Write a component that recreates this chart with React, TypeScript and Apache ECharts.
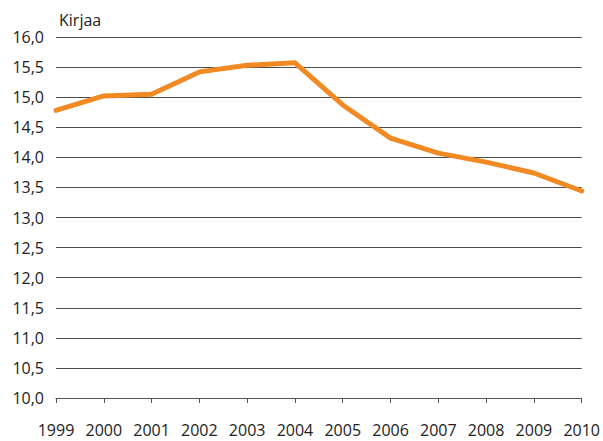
import React, { useEffect, useRef } from "react";
import * as echarts from "echarts";

const years = ["1999", "2000", "2001", "2002", "2003", "2004", "2005", "2006", "2007", "2008", "2009", "2010"];
const books = [14.78, 15.02, 15.05, 15.42, 15.53, 15.57, 14.87, 14.32, 14.07, 13.92, 13.74, 13.44];
const unitLabel = "Kirjaa";

export default function App() {
  const ref = useRef<HTMLDivElement>(null);
  useEffect(() => {
    const chart = echarts.init(ref.current!, null, { renderer: "svg" });
    const font = "'Open Sans', sans-serif";
    chart.setOption({
      animation: false,
      backgroundColor: "#ffffff",
      grid: { left: 56, right: 17, top: 37, bottom: 43, containLabel: false },
      graphic: [
        {
          type: "text",
          left: 59,
          top: 12,
          style: { text: unitLabel, font: `16px ${font}`, fill: "#222" },
        },
      ],
      xAxis: {
        type: "category",
        data: years,
        boundaryGap: false,
        axisLine: { show: true, lineStyle: { color: "#555", width: 1 } },
        axisTick: { show: true, length: 5, lineStyle: { color: "#555" }, alignWithLabel: true },
        axisLabel: { color: "#222", fontFamily: font, fontSize: 16, margin: 24, interval: 0 },
        splitLine: { show: false },
      },
      yAxis: {
        type: "value",
        min: 10,
        max: 16,
        interval: 0.5,
        axisLine: { show: false },
        axisTick: { show: false },
        axisLabel: {
          color: "#222",
          fontFamily: font,
          fontSize: 16,
          margin: 12,
          formatter: (v: number) => v.toFixed(1).replace(".", ","),
        },
        splitLine: { show: true, lineStyle: { color: "#4d4d4d", width: 1 } },
      },
      series: [
        {
          type: "line",
          data: books,
          symbol: "none",
          lineStyle: { color: "#F28A24", width: 5, join: "round", cap: "round" },
        },
      ],
    });
    return () => chart.dispose();
  }, []);
  return (
    <div
      ref={ref}
      style={{ position: "fixed", left: 0, top: 0, width: 603, height: 441 }}
    />
  );
}
